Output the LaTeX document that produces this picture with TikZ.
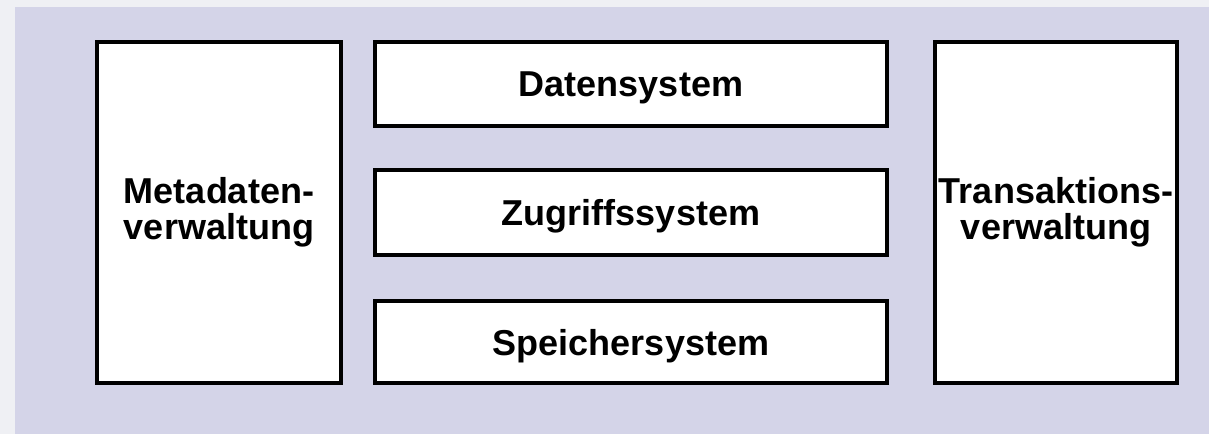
\documentclass[tikz,border=0pt]{standalone}
\usepackage{fontspec}
\setmainfont{Liberation Sans}
\definecolor{outerbg}{RGB}{239,240,244}
\definecolor{panel}{RGB}{212,212,232}
\begin{document}
\begin{tikzpicture}[x=1pt,y=-1pt,
  block/.style={draw=black,fill=white,line width=4pt,inner sep=0pt,
    font=\fontsize{36}{36}\selectfont\bfseries,align=center},
  layer/.style={block,minimum width=512pt,text depth=0pt}]
\fill[outerbg] (0,0) rectangle (1209,434);
\useasboundingbox (0,0) rectangle (1209,434);
\fill[panel] (15,7) rectangle (1209,434);
% left
\node[block,minimum width=244pt,minimum height=341pt] (meta) at (219,212.5) {Metadaten-\\verwaltung};
% middle
\node[layer,minimum height=84pt] (daten) at (631,84) {Datensystem};
\node[layer,minimum height=85pt] (zugriff) at (631,212.5) {Zugriffssystem};
\node[layer,minimum height=82pt] (speicher) at (631,342) {Speichersystem};
% right
\node[block,minimum width=242pt,minimum height=341pt] (trans) at (1056,212.5) {Transaktions-\\verwaltung};
\end{tikzpicture}
\end{document}
